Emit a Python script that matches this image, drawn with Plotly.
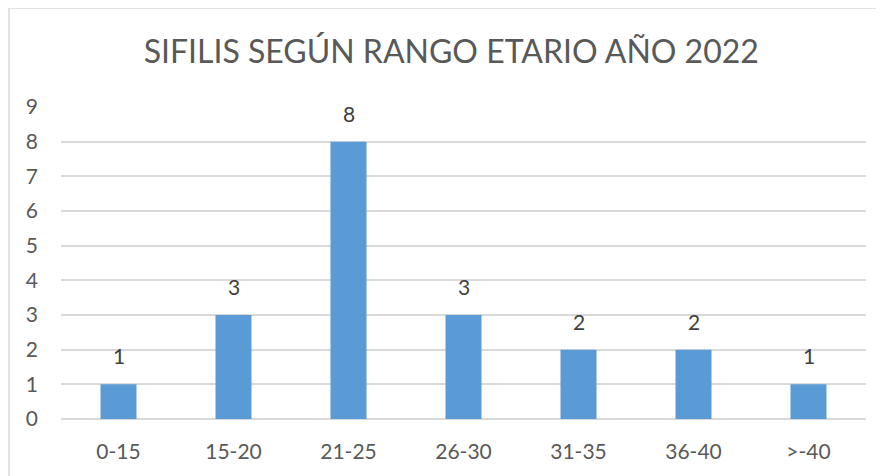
import plotly.graph_objects as go

rangos = ["0-15", "15-20", "21-25", "26-30", "31-35", "36-40", ">-40"]
casos = [1, 3, 8, 3, 2, 2, 1]
y_ticks = list(range(0, 10))

FONT = "Lato, 'Open Sans', sans-serif"

fig = go.Figure(
    go.Bar(
        x=rangos,
        y=casos,
        marker=dict(color="#5b9bd5", line=dict(width=0)),
    )
)

# value labels above the bars
for r, c in zip(rangos, casos):
    fig.add_annotation(
        x=r, y=c, text=str(c), showarrow=False,
        yanchor="bottom", yshift=14,
        font=dict(size=21, color="#404040", family=FONT),
    )

# page body has an 8px margin, so the figure is a bit smaller and shifted
fig.update_layout(
    width=876,
    height=468,
    margin=dict(l=53, r=18, t=99, b=57),
    paper_bgcolor="white",
    plot_bgcolor="white",
    bargap=0.687,
    showlegend=False,
    title=dict(
        text="SIFILIS SEGÚN RANGO ETARIO AÑO 2022",
        x=0.506,
        xanchor="center",
        y=0.906,
        yanchor="middle",
        font=dict(size=32, color="#595959", family=FONT),
    ),
    font=dict(family=FONT, color="#595959", size=21),
)

fig.update_xaxes(
    showgrid=False,
    showline=False,
    ticks="",
    tickfont=dict(size=21, color="#595959"),
    ticklabelstandoff=18,
)
fig.update_yaxes(
    range=[0, 9],
    tickvals=y_ticks,
    showgrid=True,
    gridcolor="#d9d9d9",
    gridwidth=1.5,
    zeroline=True,
    zerolinecolor="#d9d9d9",
    zerolinewidth=1.5,
    ticks="",
    tickfont=dict(size=21, color="#595959"),
    ticklabelstandoff=22,
)

# chart border (top and left edges visible in the reference)
fig.add_shape(
    type="rect",
    xref="paper",
    yref="paper",
    x0=-0.0646,
    x1=1.06,
    y0=-0.25,
    y1=1.317,
    line=dict(color="#d9d9d9", width=1.5),
    layer="below",
)

fig.write_html("out.html")
